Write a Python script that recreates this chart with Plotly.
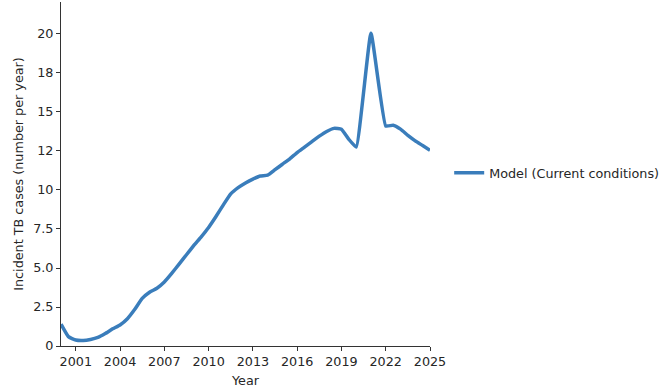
import plotly.graph_objects as go

# Modelled incident TB cases, half-yearly
years = [2000.0, 2000.5, 2001.0, 2001.5, 2002.0, 2002.5, 2003.0, 2003.5, 2004.0, 2004.5,
         2005.0, 2005.5, 2006.0, 2006.5, 2007.0, 2007.5, 2008.0, 2008.5, 2009.0, 2009.5,
         2010.0, 2010.5, 2011.0, 2011.5, 2012.0, 2012.5, 2013.0, 2013.5, 2014.0, 2014.5,
         2015.0, 2015.5, 2016.0, 2016.5, 2017.0, 2017.5, 2018.0, 2018.5, 2019.0, 2019.5,
         2020.0, 2021.0, 2022.0, 2022.5, 2023.0, 2023.5, 2024.0, 2024.5, 2025.0]
cases = [1.4, 0.6, 0.38, 0.35, 0.42, 0.55, 0.8, 1.1, 1.35, 1.75,
         2.35, 3.05, 3.45, 3.7, 4.1, 4.65, 5.25, 5.85, 6.45, 7.0,
         7.6, 8.3, 9.05, 9.75, 10.15, 10.45, 10.7, 10.9, 10.95, 11.3,
         11.65, 12.0, 12.4, 12.75, 13.1, 13.45, 13.75, 13.95, 13.9, 13.25,
         12.75, 20.05, 14.1, 14.15, 13.9, 13.5, 13.15, 12.85, 12.55]

x_ticks = [2001, 2004, 2007, 2010, 2013, 2016, 2019, 2022, 2025]
y_ticks = [0, 2.5, 5, 7.5, 10, 12.5, 15, 17.5, 20]
y_tick_labels = ["0", "2.5", "5.0", "7.5", "10", "12", "15", "18", "20"]

FONT = dict(family="DejaVu Sans", size=12.75, color="#262626")

fig = go.Figure()
fig.add_trace(go.Scatter(
    x=years, y=cases, mode="lines", name="Model (Current conditions)",
    line=dict(color="#3a7dbb", width=3.5, shape="spline", smoothing=0.35),
))

axis_common = dict(
    showline=True, linecolor="#333333", linewidth=1, mirror=False,
    ticks="outside", ticklen=4, tickwidth=1, tickcolor="#333333",
    showgrid=False, zeroline=False,
    tickfont=FONT, title_font=FONT,
)

fig.update_layout(
    width=671, height=390,
    margin=dict(l=61, r=241, t=2, b=44),
    plot_bgcolor="white", paper_bgcolor="white",
    font=FONT,
    showlegend=True,
    legend=dict(x=1.052, xanchor="left", y=0.503, yanchor="middle",
                font=FONT, bgcolor="rgba(0,0,0,0)"),
    xaxis=dict(range=[2000, 2025], tickvals=x_ticks,
               title=dict(text="Year", standoff=7), **axis_common),
    yaxis=dict(range=[0, 22.05], tickvals=y_ticks, ticktext=y_tick_labels,
               title=dict(text="Incident TB cases (number per year)", standoff=6),
               **axis_common),
)

fig.write_html("out.html")
